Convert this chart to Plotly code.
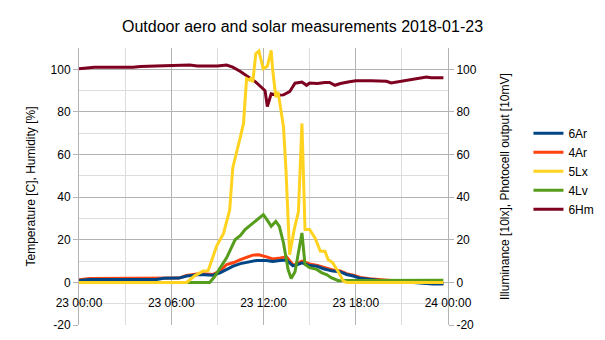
import plotly.graph_objects as go

# ---- data (hours since 2018-01-23 00:00) ----
hm_t = [0, 0.5, 1, 3.5, 4, 5, 6.5, 7.2, 7.7, 8.5, 9, 9.6, 10, 10.5, 11.1, 11.5, 11.95, 12.1, 12.25, 12.5,
        12.9, 13.3, 13.7, 14.05, 14.5, 14.8, 15.0, 15.5, 16.0, 16.3, 16.65, 17, 17.5, 18, 19, 20, 20.3, 21,
        22, 22.6, 22.9, 23.7]
hm_v = [100.3, 100.8, 101, 101, 101.3, 101.5, 101.8, 102, 101.6, 101.5, 101.6, 102, 101, 99, 96, 94, 91, 90,
        82.5, 88.5, 87.8, 88, 89.5, 93.5, 94, 92.5, 93.6, 93.3, 93.8, 93.8, 92.5, 93.3, 94, 94.6, 94.6, 94.4,
        93.6, 94.5, 95.5, 96.4, 96, 96]

lx_t = [0, 7.0, 7.5, 8.07, 8.4, 8.95, 9.4, 9.8, 10.0, 10.3, 10.5, 10.7, 10.9, 11.1, 11.2, 11.3, 11.5, 11.7,
        11.98, 12.25, 12.5, 12.6, 12.8, 12.95, 13.1, 13.3, 13.46, 13.7, 14.0, 14.27, 14.5, 14.7, 15.0, 15.35,
        15.7, 16.0, 16.2, 16.5, 16.9, 17.2, 17.4, 23.7]
lx_v = [0, 0, 3, 5.3, 5.5, 17, 23, 34, 53.7, 62, 68.4, 74.6, 95.6, 94.9, 96, 94, 107.3, 108.6,
        100.3, 101.4, 108.9, 99.5, 87, 89.4, 82.4, 73, 53, 13, 25, 33, 74.6, 24.8, 24.8, 20.9,
        14.6, 14.6, 10.7, 9.2, 4.5, 0.6, 0, 0]

lv_t = [0, 8.5, 8.8, 9.28, 9.6, 10.15, 10.5, 10.8, 11.2, 11.56, 11.99, 12.3, 12.5, 12.8, 13.03, 13.3, 13.6,
        13.8, 14.05, 14.27, 14.5, 14.7, 15.0, 15.46, 15.8, 16.1, 16.4, 16.87, 17.5, 23.7]
lv_v = [0, 0, 2.5, 7.6, 11.5, 20, 22, 24.8, 27.1, 29.4, 31.8, 28.6, 26.3, 28.6, 26.3, 18.5, 6,
        1.8, 5, 13.9, 23.2, 8.4, 6.9, 6.1, 4.5, 3.7, 2.2, 0.8, 0.9, 1]

ar6_t = [0, 0.7, 5.05, 5.5, 6.5, 7.0, 7.87, 8.7, 9.17, 9.6, 10.03, 10.5, 10.9, 11.56, 12.2, 12.6, 13.07, 13.5,
         13.9, 14.05, 14.5, 15, 15.46, 15.9, 16.5, 16.98, 17.4, 17.84, 18.3, 18.9, 19.6, 20.5, 21.5, 22.3,
         23.0, 23.7]
ar6_v = [0.9, 1.4, 1.4, 1.9, 2, 3, 3.7, 3.4, 4.5, 6, 7.6, 8.8, 9.5, 10.3, 10.3, 9.8, 10.3, 10.5,
         7.8, 7.9, 9.2, 7.9, 7.6, 6.4, 5.3, 5.0, 3.7, 3.0, 1.9, 1.4, 0.9, 0.6, 0, -0.3,
         -0.8, -0.8]

ar4_t = [0, 0.7, 6.5, 7.0, 7.9, 8.7, 9.2, 9.6, 10.03, 10.5, 11.3, 11.7, 12.2, 12.6, 13.1, 13.5, 13.9, 14.05,
         14.5, 15, 15.5, 16, 16.5, 17, 17.4, 17.84, 18.3, 18.9, 19.6, 20.5, 21.5, 22.3, 23, 23.7]
ar4_v = [1.2, 1.8, 2, 3.3, 4.2, 3.7, 5.5, 8.4, 9.2, 10.7, 12.8, 13, 12, 11, 11.5, 12, 8.4, 8.2,
         10, 8.7, 8, 6.8, 5.8, 5.4, 4.1, 3.4, 2.3, 1.7, 1.2, 0.8, 0.2, 0, -0.5, -0.5]

x_tickvals = [0, 6, 12, 18, 24]
x_ticktext = ["23 00:00", "23 06:00", "23 12:00", "23 18:00", "24 00:00"]
y_tickvals = [-20, 0, 20, 40, 60, 80, 100]
y_ticktext = ["-20", "0", "20", "40", "60", "80", "100"]

FONT = "Liberation Sans, Arial, sans-serif"
MAJ = "#b3b3b3"
MIN = "#dddddd"

fig = go.Figure()
# drawn bottom-to-top like the reference (6Hm lowest, 6Ar on top)
fig.add_trace(go.Scatter(x=hm_t, y=hm_v, name="6Hm", mode="lines", line=dict(color="#7e0021", width=3), yaxis="y"))
fig.add_trace(go.Scatter(x=lv_t, y=lv_v, name="4Lv", mode="lines", line=dict(color="#579d1c", width=3), yaxis="y2"))
fig.add_trace(go.Scatter(x=lx_t, y=lx_v, name="5Lx", mode="lines", line=dict(color="#ffd320", width=3), yaxis="y2"))
fig.add_trace(go.Scatter(x=ar4_t, y=ar4_v, name="4Ar", mode="lines", line=dict(color="#ff420e", width=3), yaxis="y"))
fig.add_trace(go.Scatter(x=ar6_t, y=ar6_v, name="6Ar", mode="lines", line=dict(color="#004586", width=3), yaxis="y"))

yr = [-20, 110]
fig.update_layout(
    width=605, height=340,
    margin=dict(l=79, r=157, t=48, b=15, pad=0, autoexpand=False),
    paper_bgcolor="white", plot_bgcolor="white",
    font=dict(family=FONT, size=12, color="black"),
    title=dict(text="Outdoor aero and solar measurements 2018-01-23", x=0.5, xanchor="center",
               y=1 - 26 / 340, yanchor="middle", font=dict(size=16, family=FONT, color="black")),
    showlegend=True,
    legend=dict(traceorder="reversed", x=1.218, xanchor="left", y=0.555, yanchor="middle",
                font=dict(size=12, family=FONT), bgcolor="rgba(0,0,0,0)", borderwidth=0),
    xaxis=dict(range=[0, 24], anchor="free", position=20 / 130, automargin=False,
               tickmode="array", tickvals=x_tickvals, ticktext=x_ticktext,
               showgrid=True, gridcolor=MAJ, gridwidth=1, zeroline=False, showline=False,
               ticks="outside", ticklen=9, tickcolor="rgba(0,0,0,0)", tickfont=dict(size=12),
               minor=dict(dtick=3, tick0=0, showgrid=True, gridcolor=MIN, gridwidth=1)),
    yaxis=dict(range=yr, tickmode="array", tickvals=y_tickvals, ticktext=y_ticktext, automargin=False,
               showgrid=True, gridcolor=MAJ,
               zeroline=False, showline=True, linecolor=MAJ, ticks="outside", ticklen=5, tickcolor=MAJ,
               title=dict(text="Temperature [C], Humidity [%]", standoff=12, font=dict(size=12)),
               minor=dict(dtick=10, tick0=-20, showgrid=True, gridcolor=MIN, gridwidth=1)),
    yaxis2=dict(range=yr, overlaying="y", side="right", tickmode="array", tickvals=y_tickvals,
                ticktext=y_ticktext, automargin=False,
                showgrid=False, zeroline=False, showline=True, linecolor=MAJ, ticks="outside",
                ticklen=5, tickcolor=MAJ,
                title=dict(text="Illuminance [10lx], Photocell output [10mV]", standoff=24, font=dict(size=12))),
)

fig.write_html("out.html")
